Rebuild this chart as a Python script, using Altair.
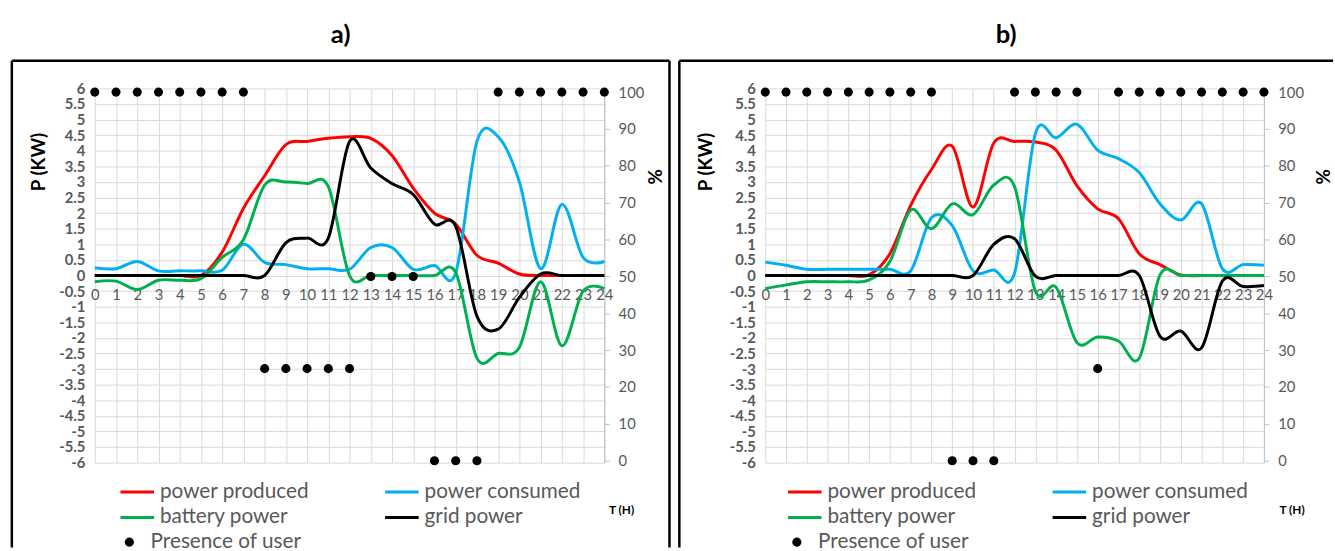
import altair as alt
import pandas as pd

# ---- shared categories / ticks -------------------------------------------
HOURS = list(range(25))
SERIES = ["power produced", "power consumed", "battery power", "grid power"]
SERIES_COLORS = ["#FF0000", "#00B0F0", "#00B050", "#000000"]
P_TICKS = [v / 2 for v in range(-12, 13)]
PCT_TICKS = list(range(0, 101, 10))
PRESENCE_LABEL = "Presence of user"

# ---- scenario a) : hourly values (kW) -------------------------------------
a_produced = [0, 0, 0, 0, 0, 0, 0.75, 2.15, 3.2, 4.2, 4.3, 4.4, 4.45, 4.4, 3.85,
              2.8, 2.0, 1.65, 0.65, 0.4, 0.05, 0, 0, 0, 0]
a_consumed = [0.25, 0.22, 0.45, 0.15, 0.15, 0.15, 0.17, 1.0, 0.42, 0.35, 0.22, 0.22,
              0.2, 0.9, 0.9, 0.2, 0.32, 0.08, 4.3, 4.45, 3.0, 0.22, 2.28, 0.58, 0.45]
a_battery = [-0.2, -0.18, -0.45, -0.15, -0.15, -0.1, 0.58, 1.15, 2.9, 3.0, 2.95, 2.85,
             0.0, 0.0, 0.0, 0.0, 0.0, 0.1, -2.65, -2.5, -2.3, -0.2, -2.25, -0.5, -0.42]
a_grid = [0, 0, 0, 0, 0, 0, 0, 0, 0, 1.05, 1.2, 1.2, 4.3, 3.45, 2.95, 2.6, 1.65,
          1.58, -1.3, -1.72, -0.7, 0.05, 0, 0, 0]
a_presence = [100] * 8 + [25] * 5 + [50] * 3 + [0] * 3 + [100] * 6

# ---- scenario b) : hourly values (kW) -------------------------------------
b_produced = [0, 0, 0, 0, 0, 0.02, 0.7, 2.25, 3.4, 4.15, 2.2, 4.25, 4.3, 4.28, 4.02,
              2.88, 2.14, 1.82, 0.7, 0.35, 0.02, 0, 0, 0, 0]
b_consumed = [0.43, 0.33, 0.2, 0.2, 0.2, 0.2, 0.2, 0.15, 1.85, 1.6, 0.15, 0.18, 0.08,
              4.55, 4.42, 4.85, 4.02, 3.75, 3.3, 2.3, 1.78, 2.3, 0.22, 0.35, 0.33]
b_battery = [-0.42, -0.3, -0.2, -0.2, -0.2, -0.14, 0.45, 2.1, 1.5, 2.3, 1.95, 2.9, 2.85,
             -0.5, -0.38, -2.15, -1.97, -2.1, -2.65, 0.02, 0, 0, 0, 0, 0]
b_grid = [0, 0, 0, 0, 0, 0, 0, 0, 0, 0, 0, 1.0, 1.18, -0.02, 0, 0, 0, 0, 0, -1.95,
          -1.78, -2.32, -0.18, -0.35, -0.32]
b_presence = [100] * 9 + [0] * 3 + [100] * 4 + [25] + [100] * 8

FONT = "Lato"
GREY = "#595959"
GRID = "#D9D9D9"
H = 379
FRAME_TOP = -28
FRAME_BOTTOM = 465
LINE_SYMBOL = "M-2,0H2"


def one_row():
    return alt.Chart(pd.DataFrame({"k": [0]}))


def panel(title, produced, consumed, battery, grid, presence, width,
          frame_left, frame_right, right_edge, dx, p_title_x, pct_title_x, t_title_x):
    long = pd.DataFrame({
        "hour": HOURS * 4,
        "series": [s for s in SERIES for _ in HOURS],
        "value": produced + consumed + battery + grid,
    })

    # hour labels sit on the zero line, as in a spreadsheet chart
    x_axis = alt.Axis(
        values=HOURS, grid=True, gridColor=GRID, gridWidth=1, domain=False,
        ticks=False, tickSize=0, labelPadding=-(H - 202), labelFont=FONT,
        labelFontSize=15, labelColor=GREY, labelFlush=False, labelOverlap=False,
        labelBound=False, title="T (H)", titleFont=FONT, titleFontSize=12,
        titleFontWeight="bold", titleColor="black", titleX=t_title_x, titleY=47,
        titleBaseline="middle",
    )
    x_scale = alt.Scale(domain=[0, 24], nice=False, zero=False)
    y_axis = alt.Axis(
        values=P_TICKS, grid=True, gridColor=GRID, gridWidth=1, domain=False,
        ticks=False, labelExpr="'' + datum.value", labelFont=FONT, labelFontSize=15,
        labelFontWeight="bold", labelColor=GREY, labelPadding=10, labelOverlap=False,
        title="P (KW)", titleFont=FONT, titleFontSize=19, titleFontWeight="bold",
        titleColor="black", titleAngle=270, titleX=p_title_x, titleY=74,
        titleAlign="center", titleBaseline="middle",
    )
    xs = alt.X("hour:Q", scale=x_scale, axis=x_axis)
    ys = alt.Y("value:Q", scale=alt.Scale(domain=[-6, 6], nice=False), axis=y_axis)
    color = alt.Color(
        "series:N",
        scale=alt.Scale(domain=SERIES, range=SERIES_COLORS),
        legend=alt.Legend(
            orient="none", legendX=32.5 + dx, legendY=398, columns=2,
            direction="horizontal", columnPadding=70, rowPadding=4, title=None,
            padding=0, symbolType=LINE_SYMBOL, symbolSize=289, symbolStrokeWidth=3,
            labelOffset=12.5, labelFont=FONT, labelFontSize=21, labelColor=GREY,
            labelLimit=300,
        ),
    )
    # draw series one after another so grid power ends up on top
    lines = alt.layer(*[
        alt.Chart(long).transform_filter(alt.datum.series == s)
        .mark_line(interpolate="cardinal", strokeWidth=3)
        .encode(x=xs, y=ys, color=color)
        for s in SERIES
    ])

    pres = pd.DataFrame({"hour": HOURS, "pct": presence, "who": PRESENCE_LABEL})
    dots = alt.Chart(pres).mark_point(filled=True, size=85, color="black", opacity=1).encode(
        x=alt.X("hour:Q", scale=x_scale, axis=x_axis),
        y=alt.Y("pct:Q", scale=alt.Scale(domain=[-0.5, 101], nice=False),
                axis=alt.Axis(
                    orient="right", values=PCT_TICKS, grid=False, domain=True,
                    domainColor="#BFBFBF", ticks=True, tickColor="#BFBFBF", tickSize=5,
                    labelPadding=9, labelFont=FONT, labelFontSize=15, labelColor=GREY,
                    title="%", titleFont=FONT, titleFontSize=19, titleFontWeight="bold",
                    titleColor="black", titleAngle=270, titleX=pct_title_x, titleY=89,
                    titleAlign="center", titleBaseline="middle",
                )),
        shape=alt.Shape(
            "who:N",
            scale=alt.Scale(domain=[PRESENCE_LABEL], range=["circle"]),
            legend=alt.Legend(
                orient="none", legendX=24.5 + dx, legendY=449, title=None, padding=0,
                symbolFillColor="black", symbolStrokeColor="black", symbolSize=85,
                labelOffset=11, labelFont=FONT, labelFontSize=21, labelColor=GREY,
            ),
        ),
    )

    # box around the panel (open at the bottom / right where it runs off)
    frame = [
        one_row().mark_rule(color="black", strokeWidth=2.5).encode(
            x=alt.value(frame_left), y=alt.value(FRAME_TOP), y2=alt.value(FRAME_BOTTOM)),
        one_row().mark_rule(color="black", strokeWidth=2.5).encode(
            x=alt.value(frame_left), x2=alt.value(frame_right), y=alt.value(FRAME_TOP)),
    ]
    if right_edge:
        frame.append(one_row().mark_rule(color="black", strokeWidth=2.5).encode(
            x=alt.value(frame_right), y=alt.value(FRAME_TOP), y2=alt.value(FRAME_BOTTOM)))

    return alt.layer(*frame, lines, dots).resolve_scale(y="independent").properties(
        width=width, height=H,
        title=alt.Title(title, font=FONT, fontSize=26, fontWeight="bold", color="black",
                        anchor="middle", frame="bounds", offset=12),
    )


panel_a = panel("a)", a_produced, a_consumed, a_battery, a_grid, a_presence, 516,
                -84, 582, True, 0, -57, 52, 533)
panel_b = panel("b)", b_produced, b_consumed, b_battery, b_grid, b_presence, 505,
                -87, 575, False, -3, -60, 60, 533)

chart = (
    alt.hconcat(panel_a, panel_b, spacing=6)
    .resolve_scale(color="independent", shape="independent")
    .resolve_legend(color="independent", shape="independent")
    .properties(padding={"left": 10, "top": 18, "right": 0, "bottom": 0},
                background="white")
    .configure_view(stroke=None)
)

chart.save("out.html", embed_options={"renderer": "svg", "actions": False})
